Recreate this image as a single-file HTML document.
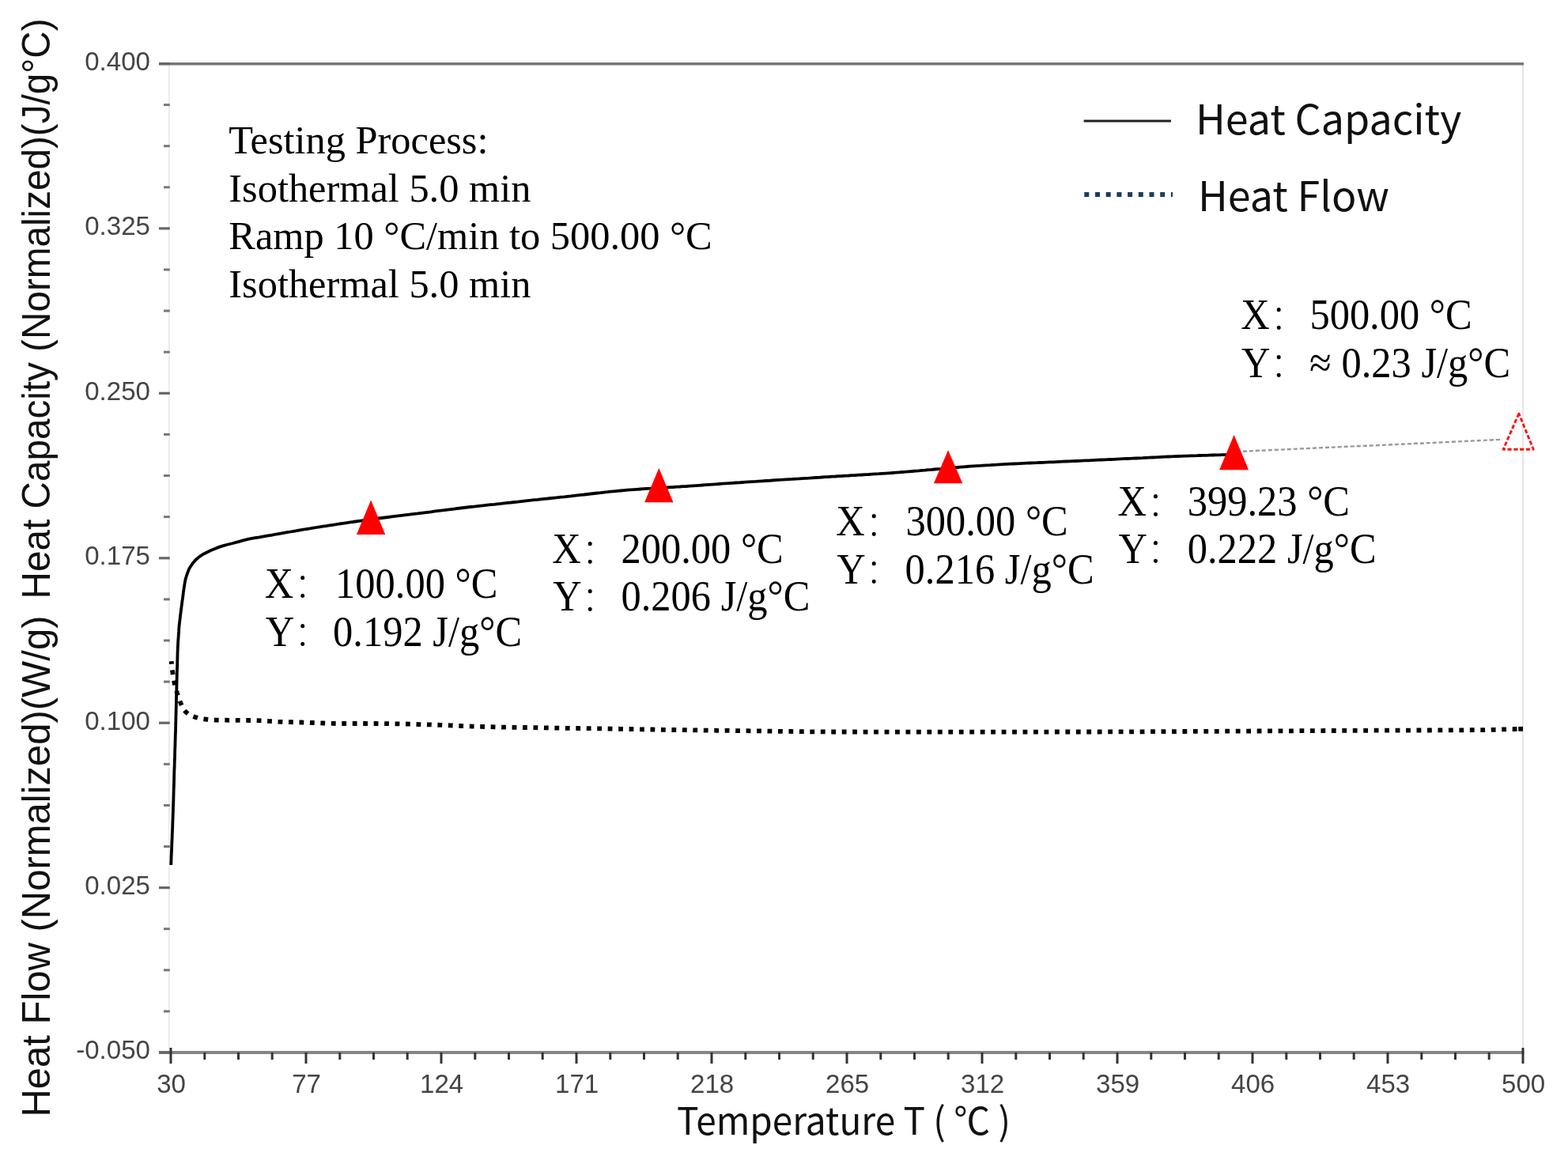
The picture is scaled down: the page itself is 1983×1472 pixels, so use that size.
<!DOCTYPE html>
<html><head><meta charset="utf-8"><title>Heat Capacity / Heat Flow</title>
<style>
html,body{margin:0;padding:0;background:#fff;}
body{width:1983px;height:1472px;overflow:hidden;}
svg{display:block;}
.tl{font-family:"Liberation Sans",Arial,sans-serif;font-size:33.6px;fill:#444;}
.ser{font-family:"Liberation Serif","Noto Serif CJK SC",serif;fill:#000;}
.ui{font-family:"Noto Sans CJK SC","Liberation Sans",sans-serif;fill:#111;}
.yt{font-family:"Liberation Sans",Arial,sans-serif;fill:#111;}
</style></head>
<body>
<svg width="1983" height="1472" viewBox="0 0 1983 1472">
<rect width="1983" height="1472" fill="#fff"/>

<line x1="213.8" y1="80.5" x2="213.8" y2="1331.0" stroke="#e4ebe4" stroke-width="1.6"/>
<line x1="1926" y1="80.5" x2="1926" y2="1331.0" stroke="#e0e0e0" stroke-width="1.6"/>
<line x1="201" y1="80.8" x2="1927" y2="80.8" stroke="#777" stroke-width="3.4"/>
<line x1="201" y1="1331.0" x2="1927.5" y2="1331.0" stroke="#858585" stroke-width="4"/>
<line x1="201" y1="80.5" x2="214.8" y2="80.5" stroke="#666" stroke-width="3.2"/>
<line x1="207" y1="132.6" x2="214.8" y2="132.6" stroke="#777" stroke-width="3"/>
<line x1="207" y1="184.7" x2="214.8" y2="184.7" stroke="#777" stroke-width="3"/>
<line x1="207" y1="236.8" x2="214.8" y2="236.8" stroke="#777" stroke-width="3"/>
<line x1="201" y1="288.9" x2="214.8" y2="288.9" stroke="#666" stroke-width="3.2"/>
<line x1="207" y1="341.0" x2="214.8" y2="341.0" stroke="#777" stroke-width="3"/>
<line x1="207" y1="393.1" x2="214.8" y2="393.1" stroke="#777" stroke-width="3"/>
<line x1="207" y1="445.2" x2="214.8" y2="445.2" stroke="#777" stroke-width="3"/>
<line x1="201" y1="497.3" x2="214.8" y2="497.3" stroke="#666" stroke-width="3.2"/>
<line x1="207" y1="549.4" x2="214.8" y2="549.4" stroke="#777" stroke-width="3"/>
<line x1="207" y1="601.5" x2="214.8" y2="601.5" stroke="#777" stroke-width="3"/>
<line x1="207" y1="653.6" x2="214.8" y2="653.6" stroke="#777" stroke-width="3"/>
<line x1="201" y1="705.8" x2="214.8" y2="705.8" stroke="#666" stroke-width="3.2"/>
<line x1="207" y1="757.9" x2="214.8" y2="757.9" stroke="#777" stroke-width="3"/>
<line x1="207" y1="810.0" x2="214.8" y2="810.0" stroke="#777" stroke-width="3"/>
<line x1="207" y1="862.1" x2="214.8" y2="862.1" stroke="#777" stroke-width="3"/>
<line x1="201" y1="914.2" x2="214.8" y2="914.2" stroke="#666" stroke-width="3.2"/>
<line x1="207" y1="966.3" x2="214.8" y2="966.3" stroke="#777" stroke-width="3"/>
<line x1="207" y1="1018.4" x2="214.8" y2="1018.4" stroke="#777" stroke-width="3"/>
<line x1="207" y1="1070.5" x2="214.8" y2="1070.5" stroke="#777" stroke-width="3"/>
<line x1="201" y1="1122.6" x2="214.8" y2="1122.6" stroke="#666" stroke-width="3.2"/>
<line x1="207" y1="1174.7" x2="214.8" y2="1174.7" stroke="#777" stroke-width="3"/>
<line x1="207" y1="1226.8" x2="214.8" y2="1226.8" stroke="#777" stroke-width="3"/>
<line x1="207" y1="1278.9" x2="214.8" y2="1278.9" stroke="#777" stroke-width="3"/>
<line x1="201" y1="1331.0" x2="214.8" y2="1331.0" stroke="#666" stroke-width="3.2"/>
<text class="tl" text-anchor="end" transform="translate(190.0,88.9) scale(0.985,1)">0.400</text>
<text class="tl" text-anchor="end" transform="translate(190.0,297.3) scale(0.985,1)">0.325</text>
<text class="tl" text-anchor="end" transform="translate(190.0,505.7) scale(0.985,1)">0.250</text>
<text class="tl" text-anchor="end" transform="translate(190.0,714.1) scale(0.985,1)">0.175</text>
<text class="tl" text-anchor="end" transform="translate(190.0,922.6) scale(0.985,1)">0.100</text>
<text class="tl" text-anchor="end" transform="translate(190.0,1131.0) scale(0.985,1)">0.025</text>
<text class="tl" text-anchor="end" transform="translate(190.0,1339.4) scale(0.985,1)">-0.050</text>
<line x1="216.0" y1="1325" x2="216.0" y2="1345" stroke="#333" stroke-width="3"/>
<line x1="258.8" y1="1331" x2="258.8" y2="1340" stroke="#333" stroke-width="3"/>
<line x1="301.5" y1="1331" x2="301.5" y2="1340" stroke="#333" stroke-width="3"/>
<line x1="344.2" y1="1331" x2="344.2" y2="1340" stroke="#333" stroke-width="3"/>
<text class="tl" text-anchor="middle" transform="translate(216.6,1382.2) scale(0.985,1)">30</text>
<line x1="387.0" y1="1331" x2="387.0" y2="1345" stroke="#333" stroke-width="3"/>
<line x1="429.8" y1="1331" x2="429.8" y2="1340" stroke="#333" stroke-width="3"/>
<line x1="472.5" y1="1331" x2="472.5" y2="1340" stroke="#333" stroke-width="3"/>
<line x1="515.2" y1="1331" x2="515.2" y2="1340" stroke="#333" stroke-width="3"/>
<text class="tl" text-anchor="middle" transform="translate(387.6,1382.2) scale(0.985,1)">77</text>
<line x1="558.0" y1="1331" x2="558.0" y2="1345" stroke="#333" stroke-width="3"/>
<line x1="600.8" y1="1331" x2="600.8" y2="1340" stroke="#333" stroke-width="3"/>
<line x1="643.5" y1="1331" x2="643.5" y2="1340" stroke="#333" stroke-width="3"/>
<line x1="686.2" y1="1331" x2="686.2" y2="1340" stroke="#333" stroke-width="3"/>
<text class="tl" text-anchor="middle" transform="translate(558.6,1382.2) scale(0.985,1)">124</text>
<line x1="729.0" y1="1331" x2="729.0" y2="1345" stroke="#333" stroke-width="3"/>
<line x1="771.8" y1="1331" x2="771.8" y2="1340" stroke="#333" stroke-width="3"/>
<line x1="814.5" y1="1331" x2="814.5" y2="1340" stroke="#333" stroke-width="3"/>
<line x1="857.2" y1="1331" x2="857.2" y2="1340" stroke="#333" stroke-width="3"/>
<text class="tl" text-anchor="middle" transform="translate(729.6,1382.2) scale(0.985,1)">171</text>
<line x1="900.0" y1="1331" x2="900.0" y2="1345" stroke="#333" stroke-width="3"/>
<line x1="942.8" y1="1331" x2="942.8" y2="1340" stroke="#333" stroke-width="3"/>
<line x1="985.5" y1="1331" x2="985.5" y2="1340" stroke="#333" stroke-width="3"/>
<line x1="1028.2" y1="1331" x2="1028.2" y2="1340" stroke="#333" stroke-width="3"/>
<text class="tl" text-anchor="middle" transform="translate(900.6,1382.2) scale(0.985,1)">218</text>
<line x1="1071.0" y1="1331" x2="1071.0" y2="1345" stroke="#333" stroke-width="3"/>
<line x1="1113.8" y1="1331" x2="1113.8" y2="1340" stroke="#333" stroke-width="3"/>
<line x1="1156.5" y1="1331" x2="1156.5" y2="1340" stroke="#333" stroke-width="3"/>
<line x1="1199.2" y1="1331" x2="1199.2" y2="1340" stroke="#333" stroke-width="3"/>
<text class="tl" text-anchor="middle" transform="translate(1071.6,1382.2) scale(0.985,1)">265</text>
<line x1="1242.0" y1="1331" x2="1242.0" y2="1345" stroke="#333" stroke-width="3"/>
<line x1="1284.8" y1="1331" x2="1284.8" y2="1340" stroke="#333" stroke-width="3"/>
<line x1="1327.5" y1="1331" x2="1327.5" y2="1340" stroke="#333" stroke-width="3"/>
<line x1="1370.2" y1="1331" x2="1370.2" y2="1340" stroke="#333" stroke-width="3"/>
<text class="tl" text-anchor="middle" transform="translate(1242.6,1382.2) scale(0.985,1)">312</text>
<line x1="1413.0" y1="1331" x2="1413.0" y2="1345" stroke="#333" stroke-width="3"/>
<line x1="1455.8" y1="1331" x2="1455.8" y2="1340" stroke="#333" stroke-width="3"/>
<line x1="1498.5" y1="1331" x2="1498.5" y2="1340" stroke="#333" stroke-width="3"/>
<line x1="1541.2" y1="1331" x2="1541.2" y2="1340" stroke="#333" stroke-width="3"/>
<text class="tl" text-anchor="middle" transform="translate(1413.6,1382.2) scale(0.985,1)">359</text>
<line x1="1584.0" y1="1331" x2="1584.0" y2="1345" stroke="#333" stroke-width="3"/>
<line x1="1626.8" y1="1331" x2="1626.8" y2="1340" stroke="#333" stroke-width="3"/>
<line x1="1669.5" y1="1331" x2="1669.5" y2="1340" stroke="#333" stroke-width="3"/>
<line x1="1712.2" y1="1331" x2="1712.2" y2="1340" stroke="#333" stroke-width="3"/>
<text class="tl" text-anchor="middle" transform="translate(1584.6,1382.2) scale(0.985,1)">406</text>
<line x1="1755.0" y1="1331" x2="1755.0" y2="1345" stroke="#333" stroke-width="3"/>
<line x1="1797.8" y1="1331" x2="1797.8" y2="1340" stroke="#333" stroke-width="3"/>
<line x1="1840.5" y1="1331" x2="1840.5" y2="1340" stroke="#333" stroke-width="3"/>
<line x1="1883.2" y1="1331" x2="1883.2" y2="1340" stroke="#333" stroke-width="3"/>
<text class="tl" text-anchor="middle" transform="translate(1755.6,1382.2) scale(0.985,1)">453</text>
<line x1="1926.0" y1="1325" x2="1926.0" y2="1345" stroke="#333" stroke-width="3"/>
<text class="tl" text-anchor="middle" transform="translate(1926.6,1382.2) scale(0.985,1)">500</text>
<text class="ui" x="856" y="1435" font-size="48" textLength="422" lengthAdjust="spacingAndGlyphs">Temperature T ( ℃ )</text>
<g transform="translate(63.2,0) rotate(-90)"><text class="yt" font-size="50" x="-1412.5" y="0" textLength="634" lengthAdjust="spacingAndGlyphs">Heat Flow (Normalized)(W/g)</text><text class="yt" font-size="50" x="-757.4" y="0" textLength="734" lengthAdjust="spacingAndGlyphs">Heat Capacity (Normalized)(J/g°C)</text></g>
<text class="ser" x="289.3" y="194.1" font-size="50.4">Testing Process:</text>
<text class="ser" x="289.3" y="254.7" font-size="50.4">Isothermal 5.0 min</text>
<text class="ser" x="289.3" y="315.3" font-size="50.4">Ramp 10 °C/min to 500.00 °C</text>
<text class="ser" x="289.3" y="376.0" font-size="50.4">Isothermal 5.0 min</text>
<line x1="1370.6" y1="152.9" x2="1481" y2="152.9" stroke="#222" stroke-width="3"/>
<line x1="1371.3" y1="245.9" x2="1483" y2="245.9" stroke="#1c3d60" stroke-width="6" stroke-dasharray="6 7.7"/>
<text class="ui" x="1512" y="169.8" font-size="52">Heat Capacity</text>
<text class="ui" x="1515" y="266.8" font-size="52">Heat Flow</text>
<path d="M216.2,1093.9 L216.3,1091.8 L216.5,1087.7 L216.6,1083.5 L216.8,1079.4 L217.0,1075.2 L217.2,1071.1 L217.3,1067.0 L217.5,1062.8 L217.7,1058.7 L217.8,1054.5 L218.0,1050.4 L218.2,1046.3 L218.3,1042.3 L218.4,1038.3 L218.6,1034.3 L218.7,1030.3 L218.9,1026.2 L219.0,1022.2 L219.1,1018.2 L219.3,1014.2 L219.4,1010.2 L219.5,1006.2 L219.6,1002.2 L219.7,998.2 L219.9,994.2 L220.0,990.2 L220.1,986.2 L220.2,982.2 L220.3,978.2 L220.4,974.2 L220.6,970.1 L220.7,966.1 L220.8,962.0 L221.0,957.9 L221.1,953.8 L221.2,949.8 L221.3,945.7 L221.5,941.6 L221.6,937.5 L221.7,933.5 L221.8,929.4 L222.0,925.3 L222.1,921.2 L222.2,917.2 L222.3,913.1 L222.4,909.1 L222.5,905.1 L222.6,901.1 L222.7,897.1 L222.8,893.0 L222.9,889.0 L223.0,885.0 L223.1,881.0 L223.2,877.0 L223.3,872.9 L223.4,868.9 L223.5,864.8 L223.6,860.7 L223.7,856.6 L223.8,852.6 L223.9,848.5 L224.1,844.4 L224.2,840.4 L224.3,836.3 L224.4,832.2 L224.5,828.1 L224.6,824.1 L224.8,819.9 L225.0,815.8 L225.2,811.5 L225.5,807.3 L225.8,803.1 L226.1,798.9 L226.3,794.6 L226.7,790.4 L227.2,786.1 L227.7,781.7 L228.2,777.4 L228.8,773.1 L229.3,768.8 L229.9,764.6 L230.4,760.6 L231.0,756.5 L231.5,752.4 L232.0,748.3 L232.6,744.2 L233.2,740.2 L233.9,736.0 L234.8,731.7 L236.1,727.5 L237.6,723.3 L239.4,719.1 L241.7,715.3 L244.3,711.7 L247.2,708.2 L250.7,705.3 L254.3,702.6 L258.1,700.2 L262.2,698.2 L266.2,696.3 L270.3,694.6 L274.3,692.9 L278.4,691.4 L282.4,690.1 L286.4,689.0 L290.5,688.0 L294.5,687.0 L298.5,685.9 L302.5,684.8 L306.6,683.7 L310.6,682.7 L314.6,681.7 L318.7,680.9 L322.7,680.2 L326.8,679.6 L330.8,678.9 L334.8,678.2 L338.9,677.4 L342.9,676.8 L346.9,676.0 L351.0,675.3 L355.0,674.6 L359.1,673.9 L363.1,673.2 L367.2,672.5 L371.3,671.8 L375.4,671.1 L379.5,670.4 L383.6,669.7 L387.7,669.0 L391.8,668.4 L395.9,667.7 L400.1,667.0 L404.2,666.4 L408.4,665.7 L412.6,665.1 L416.7,664.4 L420.9,663.8 L425.0,663.2 L429.1,662.5 L433.3,661.9 L437.4,661.3 L441.6,660.7 L445.7,660.1 L449.8,659.5 L454.0,658.9 L458.1,658.3 L462.2,657.7 L466.3,657.1 L470.5,656.6 L474.6,656.1 L478.7,655.5 L482.8,655.0 L486.9,654.5 L491.0,654.0 L495.1,653.4 L499.2,652.9 L503.4,652.4 L507.5,651.9 L511.6,651.4 L515.7,650.9 L519.9,650.4 L524.0,649.9 L528.2,649.4 L532.3,648.8 L536.5,648.3 L540.7,647.8 L544.9,647.3 L549.1,646.7 L553.3,646.2 L557.5,645.7 L561.7,645.2 L565.9,644.6 L570.1,644.1 L574.3,643.6 L578.5,643.0 L582.7,642.5 L586.9,642.0 L591.1,641.5 L595.4,641.0 L599.6,640.6 L603.8,640.1 L608.1,639.6 L612.3,639.2 L616.5,638.7 L620.8,638.2 L625.0,637.8 L629.2,637.3 L633.5,636.9 L637.7,636.4 L641.9,635.9 L646.2,635.5 L650.4,635.0 L654.6,634.6 L658.8,634.1 L663.0,633.6 L667.2,633.1 L671.4,632.7 L675.6,632.2 L679.8,631.8 L684.0,631.3 L688.2,630.9 L692.5,630.5 L696.7,630.0 L700.9,629.6 L705.1,629.2 L709.3,628.7 L713.5,628.3 L717.7,627.8 L721.9,627.4 L726.1,626.9 L730.3,626.4 L734.5,625.9 L738.7,625.5 L742.9,625.0 L747.1,624.5 L751.3,624.0 L755.5,623.5 L759.7,623.1 L763.9,622.6 L768.1,622.2 L772.3,621.7 L776.5,621.3 L780.7,620.9 L784.9,620.5 L789.1,620.1 L793.3,619.7 L797.5,619.4 L801.7,619.1 L805.9,618.8 L810.1,618.5 L814.2,618.2 L818.4,617.9 L822.6,617.7 L826.8,617.4 L830.9,617.2 L835.0,616.9 L839.2,616.7 L843.3,616.5 L847.4,616.2 L851.5,616.0 L855.6,615.7 L859.6,615.5 L863.7,615.2 L867.8,615.0 L872.0,614.7 L876.1,614.4 L880.2,614.1 L884.3,613.8 L888.4,613.5 L892.6,613.2 L896.7,612.9 L900.9,612.6 L905.1,612.3 L909.3,612.0 L913.5,611.7 L917.7,611.4 L921.9,611.1 L926.1,610.8 L930.3,610.5 L934.6,610.3 L938.8,610.0 L943.0,609.7 L947.2,609.4 L951.4,609.1 L955.6,608.9 L959.8,608.6 L964.0,608.3 L968.2,608.0 L972.4,607.8 L976.6,607.5 L980.8,607.2 L985.0,606.9 L989.2,606.7 L993.4,606.4 L997.6,606.1 L1001.8,605.9 L1006.0,605.6 L1010.2,605.4 L1014.4,605.1 L1018.6,604.8 L1022.8,604.6 L1027.0,604.3 L1031.2,604.0 L1035.4,603.8 L1039.6,603.5 L1043.8,603.2 L1048.0,603.0 L1052.2,602.7 L1056.4,602.5 L1060.6,602.2 L1064.8,602.0 L1069.0,601.7 L1073.2,601.5 L1077.4,601.2 L1081.7,601.0 L1085.9,600.7 L1090.1,600.5 L1094.4,600.2 L1098.6,600.0 L1102.8,599.7 L1107.1,599.4 L1111.3,599.2 L1115.5,598.9 L1119.8,598.6 L1124.0,598.3 L1128.2,598.0 L1132.4,597.6 L1136.6,597.3 L1140.8,597.0 L1145.0,596.7 L1149.2,596.3 L1153.3,596.0 L1157.4,595.6 L1161.6,595.3 L1165.7,594.9 L1169.8,594.6 L1173.9,594.2 L1178.0,593.9 L1182.1,593.5 L1186.1,593.1 L1190.2,592.8 L1194.3,592.4 L1198.4,592.1 L1202.5,591.7 L1206.6,591.4 L1210.7,591.0 L1214.8,590.7 L1218.9,590.4 L1223.1,590.0 L1227.2,589.7 L1231.4,589.4 L1235.5,589.1 L1239.7,588.9 L1243.9,588.6 L1248.1,588.3 L1252.3,588.1 L1256.5,587.8 L1260.7,587.6 L1264.9,587.3 L1269.1,587.1 L1273.3,586.9 L1277.5,586.7 L1281.7,586.5 L1285.9,586.3 L1290.1,586.1 L1294.3,585.9 L1298.5,585.7 L1302.7,585.5 L1306.9,585.3 L1311.1,585.2 L1315.2,585.0 L1319.4,584.8 L1323.5,584.6 L1327.6,584.4 L1331.8,584.3 L1335.9,584.1 L1340.0,583.9 L1344.1,583.7 L1348.1,583.5 L1352.2,583.4 L1356.3,583.2 L1360.3,583.0 L1364.3,582.8 L1368.4,582.6 L1372.4,582.4 L1376.5,582.3 L1380.5,582.1 L1384.5,581.9 L1388.6,581.7 L1392.6,581.5 L1396.7,581.4 L1400.7,581.2 L1404.7,581.0 L1408.8,580.8 L1412.8,580.6 L1416.8,580.4 L1420.9,580.2 L1424.9,580.0 L1429.0,579.9 L1433.0,579.7 L1437.0,579.5 L1441.1,579.3 L1445.1,579.1 L1449.1,578.8 L1453.2,578.7 L1457.2,578.5 L1461.2,578.3 L1465.3,578.1 L1469.3,577.9 L1473.3,577.7 L1477.3,577.5 L1481.4,577.4 L1485.4,577.2 L1489.4,577.0 L1493.5,576.9 L1497.5,576.7 L1501.5,576.6 L1505.6,576.4 L1509.6,576.3 L1513.6,576.2 L1517.7,576.0 L1521.7,575.9 L1525.7,575.8 L1529.8,575.6 L1533.8,575.5 L1537.9,575.4 L1541.9,575.3 L1545.9,575.2 L1550.0,575.1 L1552.0,575.1" fill="none" stroke="#000" stroke-width="3.8" stroke-linejoin="round"/>
<path d="M1572.0,570.8 C1590.5,569.9 1644.3,567.5 1683.0,565.7 C1721.7,564.0 1767.8,562.0 1804.0,560.3 C1840.2,558.6 1884.0,556.5 1900.0,555.7" fill="none" stroke="#999" stroke-width="2.4" stroke-dasharray="5 3"/>
<line x1="1920.2" y1="921.8" x2="1926" y2="921.8" stroke="#000" stroke-width="5.8"/>
<path d="M216.7,836.2 L216.9,838.4 L217.4,842.9 L217.9,847.2 L218.5,851.5 L219.1,855.6 L219.8,859.7 L220.6,863.8 L221.6,867.9 L222.7,872.0 L223.9,876.1 L225.3,880.4 L226.7,884.6 L228.4,888.8 L230.2,892.9 L232.2,896.8 L234.8,900.2 L238.2,902.9 L242.1,905.0 L246.2,906.7 L250.5,908.0 L254.8,908.8 L259.3,909.5 L263.8,910.0 L268.3,910.4 L272.8,910.6 L277.1,910.7 L281.2,910.7 L285.4,910.7 L289.6,910.8 L293.7,910.8 L297.9,910.8 L302.0,910.8 L306.2,910.9 L310.3,910.9 L314.4,911.0 L318.5,911.0 L322.6,911.1 L326.7,911.2 L330.9,911.4 L335.1,911.6 L339.3,911.9 L343.5,912.1 L347.7,912.4 L351.9,912.7 L356.0,912.8 L360.0,913.0 L364.1,913.1 L368.1,913.2 L372.1,913.3 L376.2,913.4 L380.2,913.5 L384.2,913.6 L388.3,913.7 L392.3,913.9 L396.4,914.0 L400.6,914.2 L404.8,914.3 L408.9,914.5 L413.1,914.7 L417.3,914.8 L421.5,914.9 L425.6,915.0 L429.8,915.0 L433.9,915.0 L438.1,915.0 L442.2,915.0 L446.4,915.0 L450.5,915.0 L454.7,915.0 L458.8,915.0 L463.0,915.0 L467.1,915.0 L471.3,915.0 L475.4,915.0 L479.5,915.1 L483.6,915.1 L487.7,915.2 L491.8,915.2 L495.9,915.3 L499.9,915.4 L504.0,915.4 L508.1,915.5 L512.2,915.5 L516.3,915.6 L520.3,915.7 L524.3,915.8 L528.3,916.0 L532.3,916.1 L536.3,916.2 L540.3,916.3 L544.3,916.4 L548.3,916.6 L552.3,916.7 L556.3,916.8 L560.4,917.0 L564.4,917.2 L568.5,917.3 L572.6,917.5 L576.6,917.7 L580.7,917.9 L584.8,918.1 L588.9,918.2 L592.9,918.4 L597.0,918.6 L601.0,918.7 L605.0,918.8 L609.0,918.9 L613.0,919.0 L617.0,919.1 L621.1,919.2 L625.1,919.3 L629.1,919.4 L633.1,919.5 L637.1,919.6 L641.2,919.7 L645.3,919.7 L649.4,919.8 L653.5,919.8 L657.6,919.9 L661.6,920.0 L665.7,920.0 L669.8,920.1 L673.9,920.1 L678.0,920.2 L682.1,920.3 L686.2,920.3 L690.3,920.4 L694.4,920.4 L698.5,920.5 L702.6,920.6 L706.6,920.6 L710.7,920.7 L714.8,920.8 L718.9,920.8 L723.0,920.9 L727.1,920.9 L731.2,921.0 L735.3,921.1 L739.4,921.1 L743.5,921.2 L747.6,921.2 L751.7,921.3 L755.8,921.4 L759.9,921.4 L764.0,921.5 L768.1,921.5 L772.2,921.6 L776.3,921.7 L780.4,921.7 L784.5,921.8 L788.6,921.9 L792.7,922.0 L796.8,922.0 L800.9,922.1 L805.0,922.2 L809.1,922.3 L813.2,922.3 L817.3,922.4 L821.4,922.5 L825.5,922.5 L829.6,922.6 L833.7,922.7 L837.8,922.8 L841.8,922.8 L845.9,922.9 L850.0,923.0 L854.1,923.0 L858.2,923.1 L862.3,923.1 L866.4,923.2 L870.5,923.3 L874.6,923.3 L878.7,923.4 L882.8,923.4 L886.9,923.5 L891.0,923.6 L895.1,923.6 L899.2,923.7 L903.3,923.7 L907.4,923.8 L911.5,923.8 L915.6,923.9 L919.7,923.9 L923.8,924.0 L927.9,924.0 L931.9,924.1 L936.0,924.1 L940.1,924.2 L944.2,924.2 L948.3,924.3 L952.4,924.3 L956.5,924.4 L960.6,924.4 L964.7,924.5 L968.8,924.5 L972.8,924.6 L976.9,924.6 L981.0,924.7 L985.0,924.8 L989.0,924.8 L993.1,924.9 L997.1,924.9 L1001.1,925.0 L1005.2,925.1 L1009.2,925.1 L1013.3,925.2 L1017.3,925.2 L1021.3,925.3 L1025.4,925.4 L1029.4,925.4 L1033.5,925.4 L1037.5,925.4 L1041.5,925.4 L1045.5,925.5 L1049.6,925.5 L1053.6,925.5 L1057.7,925.5 L1061.7,925.5 L1065.7,925.5 L1069.8,925.5 L1073.8,925.5 L1077.8,925.5 L1081.8,925.5 L1085.9,925.6 L1089.9,925.6 L1094.0,925.6 L1098.0,925.6 L1102.0,925.6 L1106.0,925.6 L1110.0,925.6 L1114.0,925.6 L1118.0,925.6 L1122.0,925.6 L1126.0,925.6 L1130.0,925.6 L1134.0,925.6 L1138.0,925.6 L1142.0,925.6 L1146.0,925.6 L1150.0,925.6 L1154.0,925.6 L1158.0,925.6 L1162.0,925.6 L1166.0,925.6 L1170.0,925.6 L1174.0,925.6 L1178.0,925.6 L1182.0,925.6 L1186.0,925.6 L1190.0,925.6 L1194.0,925.6 L1198.0,925.6 L1202.0,925.6 L1206.0,925.6 L1210.0,925.6 L1214.0,925.6 L1218.0,925.6 L1222.0,925.6 L1226.0,925.6 L1230.0,925.6 L1234.0,925.6 L1238.0,925.6 L1242.0,925.6 L1246.0,925.6 L1250.0,925.6 L1254.0,925.6 L1258.0,925.6 L1262.0,925.6 L1266.0,925.6 L1270.0,925.6 L1274.0,925.6 L1278.0,925.6 L1282.0,925.6 L1286.0,925.6 L1290.0,925.6 L1294.0,925.6 L1298.0,925.6 L1302.0,925.6 L1306.0,925.6 L1310.0,925.6 L1314.0,925.6 L1318.0,925.6 L1322.0,925.6 L1326.0,925.6 L1330.0,925.5 L1334.0,925.5 L1338.0,925.5 L1342.0,925.5 L1346.0,925.5 L1350.0,925.5 L1354.0,925.5 L1358.0,925.5 L1362.0,925.5 L1366.0,925.5 L1370.0,925.5 L1374.0,925.5 L1378.0,925.5 L1382.0,925.5 L1386.0,925.5 L1390.0,925.5 L1394.0,925.4 L1398.0,925.4 L1402.0,925.4 L1406.0,925.4 L1410.0,925.4 L1414.0,925.4 L1418.0,925.4 L1422.0,925.4 L1426.0,925.4 L1430.0,925.3 L1434.0,925.3 L1438.0,925.3 L1442.0,925.3 L1446.0,925.3 L1450.0,925.2 L1454.0,925.2 L1458.0,925.2 L1462.0,925.2 L1466.0,925.2 L1470.0,925.1 L1474.0,925.1 L1478.0,925.1 L1482.0,925.1 L1486.0,925.1 L1490.0,925.0 L1494.0,925.0 L1498.0,925.0 L1502.0,925.0 L1506.0,924.9 L1510.0,924.9 L1514.0,924.9 L1518.0,924.9 L1522.0,924.9 L1526.0,924.8 L1530.0,924.8 L1534.0,924.8 L1538.0,924.8 L1542.1,924.8 L1546.1,924.7 L1550.1,924.7 L1554.2,924.7 L1558.2,924.7 L1562.2,924.6 L1566.3,924.6 L1570.3,924.6 L1574.3,924.6 L1578.4,924.6 L1582.4,924.5 L1586.4,924.5 L1590.5,924.5 L1594.5,924.5 L1598.6,924.5 L1602.6,924.4 L1606.6,924.4 L1610.7,924.4 L1614.7,924.4 L1618.7,924.3 L1622.8,924.3 L1626.8,924.3 L1630.8,924.3 L1634.9,924.3 L1638.9,924.2 L1642.9,924.2 L1647.0,924.2 L1651.0,924.2 L1655.0,924.2 L1659.1,924.1 L1663.1,924.1 L1667.1,924.1 L1671.2,924.1 L1675.2,924.0 L1679.2,924.0 L1683.3,924.0 L1687.3,924.0 L1691.3,924.0 L1695.4,923.9 L1699.4,923.9 L1703.4,923.9 L1707.5,923.9 L1711.5,923.9 L1715.5,923.8 L1719.6,923.8 L1723.6,923.8 L1727.7,923.8 L1731.7,923.8 L1735.7,923.7 L1739.8,923.7 L1743.8,923.7 L1747.8,923.7 L1751.9,923.7 L1755.9,923.7 L1760.0,923.6 L1764.0,923.6 L1768.0,923.6 L1772.1,923.6 L1776.1,923.6 L1780.1,923.6 L1784.2,923.6 L1788.2,923.5 L1792.3,923.5 L1796.3,923.5 L1800.3,923.5 L1804.4,923.5 L1808.4,923.5 L1812.4,923.4 L1816.5,923.4 L1820.5,923.4 L1824.6,923.4 L1828.6,923.4 L1832.6,923.4 L1836.7,923.3 L1840.7,923.3 L1844.7,923.3 L1848.8,923.3 L1852.8,923.3 L1856.9,923.3 L1860.9,923.2 L1864.9,923.2 L1869.0,923.2 L1873.0,923.2 L1877.2,923.1 L1881.3,923.0 L1885.5,922.9 L1889.6,922.8 L1893.8,922.7 L1897.9,922.5 L1902.1,922.4 L1906.2,922.3 L1910.4,922.1 L1914.6,922.0 L1918.8,921.8 L1922.9,921.7 L1925.0,921.6" fill="none" stroke="#000" stroke-width="5.8" stroke-dasharray="5.8 7.66" stroke-dashoffset="2.2"/>
<polygon points="469.1,632.5 450.9,676 487.3,676" fill="#f00"/>
<polygon points="833.3,591.9 815.1,635.2 851.5,635.2" fill="#f00"/>
<polygon points="1199.1,569.2 1180.9,611.3 1217.3,611.3" fill="#f00"/>
<polygon points="1560.6,550.1 1542.1,594.2 1579.1,594.2" fill="#f00"/>
<polygon points="1920.9,523 1901.2,568.2 1939.2,568.2" fill="none" stroke="#ff1010" stroke-width="2.9" stroke-dasharray="5.2 2.6" stroke-linejoin="round"/>
<text class="ser" font-size="55" transform="translate(334.8,755.8) scale(0.918,1)">X</text>
<text class="ser" font-size="55" transform="translate(371.0,758.0999999999999) scale(0.918,1)" stroke="#fff" stroke-width="1.3">：</text>
<text class="ser" font-size="55" transform="translate(424.1,755.8) scale(0.918,1)">100.00 °C</text>
<text class="ser" font-size="55" transform="translate(335.7,816.8) scale(0.918,1)">Y</text>
<text class="ser" font-size="55" transform="translate(371.0,819.0999999999999) scale(0.918,1)" stroke="#fff" stroke-width="1.3">：</text>
<text class="ser" font-size="55" transform="translate(421.1,816.8) scale(0.918,1)">0.192 J/g°C</text>
<text class="ser" font-size="55" transform="translate(698.3,712.2) scale(0.918,1)">X</text>
<text class="ser" font-size="55" transform="translate(734.5,714.5) scale(0.918,1)" stroke="#fff" stroke-width="1.3">：</text>
<text class="ser" font-size="55" transform="translate(785.5,712.2) scale(0.918,1)">200.00 °C</text>
<text class="ser" font-size="55" transform="translate(699.2,772.4) scale(0.918,1)">Y</text>
<text class="ser" font-size="55" transform="translate(734.5,774.6999999999999) scale(0.918,1)" stroke="#fff" stroke-width="1.3">：</text>
<text class="ser" font-size="55" transform="translate(785.5,772.4) scale(0.918,1)">0.206 J/g°C</text>
<text class="ser" font-size="55" transform="translate(1057.3,677.4) scale(0.918,1)">X</text>
<text class="ser" font-size="55" transform="translate(1093.5,679.6999999999999) scale(0.918,1)" stroke="#fff" stroke-width="1.3">：</text>
<text class="ser" font-size="55" transform="translate(1145.5,677.4) scale(0.918,1)">300.00 °C</text>
<text class="ser" font-size="55" transform="translate(1058.2,737.8) scale(0.918,1)">Y</text>
<text class="ser" font-size="55" transform="translate(1093.5,740.0999999999999) scale(0.918,1)" stroke="#fff" stroke-width="1.3">：</text>
<text class="ser" font-size="55" transform="translate(1144.6,737.8) scale(0.918,1)">0.216 J/g°C</text>
<text class="ser" font-size="55" transform="translate(1413.5,652.3) scale(0.918,1)">X</text>
<text class="ser" font-size="55" transform="translate(1449.7,654.5999999999999) scale(0.918,1)" stroke="#fff" stroke-width="1.3">：</text>
<text class="ser" font-size="55" transform="translate(1501.7,652.3) scale(0.918,1)">399.23 °C</text>
<text class="ser" font-size="55" transform="translate(1414.4,712.1) scale(0.918,1)">Y</text>
<text class="ser" font-size="55" transform="translate(1449.7,714.4) scale(0.918,1)" stroke="#fff" stroke-width="1.3">：</text>
<text class="ser" font-size="55" transform="translate(1501.7,712.1) scale(0.918,1)">0.222 J/g°C</text>
<text class="ser" font-size="55" transform="translate(1569.2,416.3) scale(0.918,1)">X</text>
<text class="ser" font-size="55" transform="translate(1605.4,418.6) scale(0.918,1)" stroke="#fff" stroke-width="1.3">：</text>
<text class="ser" font-size="55" transform="translate(1656.4,416.3) scale(0.918,1)">500.00 °C</text>
<text class="ser" font-size="55" transform="translate(1570.1,476.8) scale(0.918,1)">Y</text>
<text class="ser" font-size="55" transform="translate(1605.4,479.1) scale(0.918,1)" stroke="#fff" stroke-width="1.3">：</text>
<text class="ser" font-size="55" transform="translate(1656.1,476.8) scale(0.918,1)">≈ 0.23 J/g°C</text>
</svg>
</body></html>
